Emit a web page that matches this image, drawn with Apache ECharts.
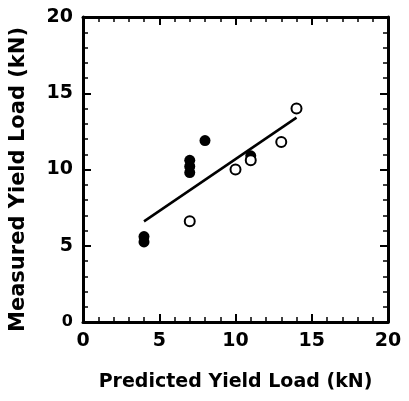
<!DOCTYPE html>
<html>
<head>
<meta charset="utf-8">
<script src="https://cdn.jsdelivr.net/npm/echarts@6/dist/echarts.min.js"></script>
<style>html,body{margin:0;padding:0;background:#fff;}#c{width:409px;height:401px;}</style>
</head>
<body>
<div id="c"></div>
<script>
var xTitle = 'Predicted Yield Load (kN)';
var yTitle = 'Measured Yield Load (kN)';
var tickValues = [0, 5, 10, 15, 20];
var filledX = [4, 4, 7, 7, 7, 8, 11];
var filledY = [5.6, 5.25, 10.6, 10.2, 9.8, 11.9, 10.9];
var openX = [7, 10, 11, 13, 14];
var openY = [6.6, 10.0, 10.6, 11.8, 14.0];
var fitX = [4, 14];
var fitY = [6.6, 13.4];

function pairs(xs, ys) { return xs.map(function (x, i) { return [x, ys[i]]; }); }

var font = 'DejaVu Sans, Liberation Sans, Arial, sans-serif';
var axisCommon = {
  type: 'value', min: tickValues[0], max: tickValues[tickValues.length - 1], interval: 5,
  axisLine: { show: true, onZero: false, lineStyle: { color: '#000', width: 3 } },
  axisTick: { show: true, inside: true, length: 8, lineStyle: { color: '#000', width: 2 } },
  minorTick: { show: true, splitNumber: 5, length: 5, lineStyle: { color: '#000', width: 1.5 } },
  splitLine: { show: false }
};
function ax(extra) { return Object.assign({}, JSON.parse(JSON.stringify(axisCommon)), extra); }

var chart = echarts.init(document.getElementById('c'));
chart.setOption({
  animation: false,
  backgroundColor: '#fff',
  grid: { left: 83, top: 17, width: 305, height: 305, containLabel: false },
  xAxis: [
    ax({ position: 'bottom', name: xTitle, nameLocation: 'middle', nameGap: 51,
      nameTextStyle: { color: '#000', fontFamily: font, fontWeight: 'bold', fontSize: 19 },
      axisLabel: { show: true, margin: 10, color: '#000', fontFamily: font, fontWeight: 'bold', fontSize: 19 } }),
    ax({ position: 'top', axisLabel: { show: false } })
  ],
  yAxis: [
    ax({ position: 'left', name: yTitle, nameLocation: 'middle', nameGap: 54,
      nameTextStyle: { color: '#000', fontFamily: font, fontWeight: 'bold', fontSize: 21, padding: [0, 20, 0, 0] },
      axisLabel: { show: true, margin: 10, color: '#000', fontFamily: font, fontWeight: 'bold', fontSize: 19,
        formatter: function (v) { return v === 0 ? '{s|0}' : String(v); },
        rich: { s: { color: '#000', fontFamily: font, fontWeight: 'bold', fontSize: 16 } } } }),
    ax({ position: 'right', axisLabel: { show: false } })
  ],
  series: [
    { type: 'line', data: pairs(fitX, fitY), symbol: 'none', lineStyle: { color: '#000', width: 2.5 }, z: 2 },
    { type: 'scatter', data: pairs(filledX, filledY), symbol: 'circle', symbolSize: 11,
      itemStyle: { color: '#000', opacity: 1, borderColor: '#000', borderWidth: 0 }, z: 3 },
    { type: 'scatter', data: pairs(openX, openY), symbol: 'circle', symbolSize: 10,
      itemStyle: { color: '#fff', opacity: 1, borderColor: '#000', borderWidth: 2 }, z: 4 }
  ]
});
</script>
</body>
</html>
